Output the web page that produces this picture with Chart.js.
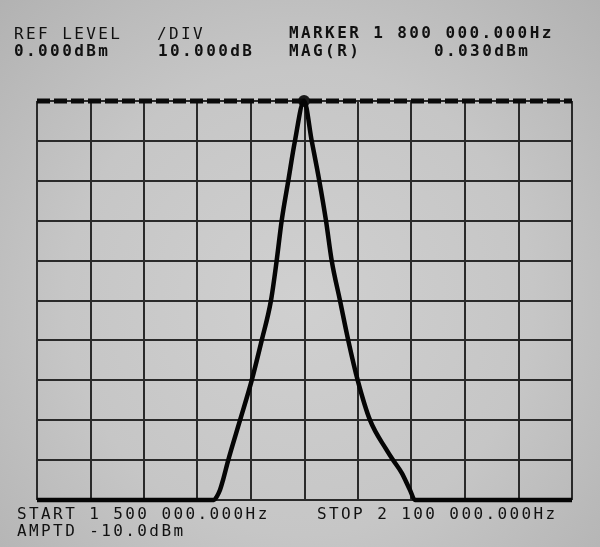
<!DOCTYPE html>
<html>
<head>
<meta charset="utf-8">
<script src="https://cdn.jsdelivr.net/npm/chart.js@4/dist/chart.umd.min.js"></script>
<style>
  html, body { margin: 0; padding: 0; }
  body {
    width: 600px; height: 547px; position: relative; overflow: hidden;
    background: radial-gradient(ellipse at 50% 55%, #d0d0d0 0%, #c6c6c6 55%, #b2b2b2 100%);
    font-family: "DejaVu Sans Mono", "Liberation Mono", monospace;
    color: #111;
  }
  #wrap { position: absolute; left: 0; top: 0; width: 600px; height: 547px; }
  .lbl { position: absolute; font-size: 16px; letter-spacing: 2.4px; line-height: 16px; white-space: pre; }
  .b { font-weight: bold; }
</style>
</head>
<body>
<div id="wrap"><canvas id="myCanvas" width="600" height="547"></canvas></div>

<div class="lbl" style="left:14px; top:26px;">REF LEVEL</div>
<div class="lbl b" style="left:14px; top:43px;">0.000dBm</div>
<div class="lbl" style="left:157px; top:26px;">/DIV</div>
<div class="lbl b" style="left:158px; top:43px;">10.000dB</div>
<div class="lbl b" style="left:289px; top:25px;">MARKER 1 800 000.000Hz</div>
<div class="lbl b" style="left:289px; top:43px;">MAG(R)</div>
<div class="lbl b" style="left:434px; top:43px;">0.030dBm</div>

<div class="lbl" style="left:17px; top:506px;">START 1 500 000.000Hz</div>
<div class="lbl" style="left:317px; top:506px;">STOP 2 100 000.000Hz</div>
<div class="lbl" style="left:17px; top:523px;">AMPTD -10.0dBm</div>

<script>
// sweep: 1.5 MHz .. 2.1 MHz, 60 kHz/div ; 0 dBm .. -100 dBm, 10 dB/div
const freqMHz = [
  1.500, 1.6985, 1.7015, 1.7052, 1.7086, 1.7145, 1.7277, 1.7408, 1.7520, 1.7624,
  1.7688, 1.7744, 1.7818, 1.7893, 1.7995,
  1.8081, 1.8166, 1.8241, 1.8305, 1.8398, 1.8491, 1.8597, 1.8735, 1.8922, 1.8993,
  1.9090, 1.9183, 1.9239, 2.100
];
const levelDb = [
  -100, -100, -99.2, -97.5, -95, -90, -80, -70, -60, -50,
  -40, -30, -20, -10, 0,
  -10, -20, -30, -40, -50, -60, -70, -80, -87.5, -90,
  -93.2, -97.5, -100, -100
];
const refFreq = [1.5, 2.1];
const refDb = [0, 0];
const markerFreq = [1.7995];
const markerDb = [0];

const toPoints = (xs, ys) => xs.map((x, i) => ({ x: x, y: ys[i] }));

let ctx = document.getElementById('myCanvas').getContext('2d');
let chart = new Chart(ctx, {
  type: 'line',
  data: {
    datasets: [{
      label: 'trace',
      data: toPoints(freqMHz, levelDb),
      borderColor: '#050505',
      borderWidth: 4.5,
      pointRadius: 0,
      cubicInterpolationMode: 'monotone',
      clip: false
    }, {
      label: 'ref level',
      data: toPoints(refFreq, refDb),
      borderColor: '#0a0a0a',
      borderWidth: 5,
      borderDash: [13, 4],
      pointRadius: 0,
      clip: false
    }, {
      label: 'marker',
      data: toPoints(markerFreq, markerDb),
      showLine: false,
      pointRadius: 6,
      pointBackgroundColor: '#1a1a1a',
      pointBorderWidth: 0,
      clip: false
    }]
  },
  options: {
    responsive: false,
    animation: false,
    layout: { padding: { left: 37, right: 28, top: 101, bottom: 47 } },
    plugins: { legend: { display: false }, tooltip: { enabled: false } },
    scales: {
      x: {
        type: 'linear', min: 1.5, max: 2.1,
        ticks: { display: false, stepSize: 0.06 },
        grid: { color: '#2a2a2a', lineWidth: 2, drawTicks: false },
        border: { display: false }
      },
      y: {
        min: -100, max: 0,
        ticks: { display: false, stepSize: 10 },
        grid: { color: '#2a2a2a', lineWidth: 2, drawTicks: false },
        border: { display: false }
      }
    }
  }
});
</script>
</body>
</html>
